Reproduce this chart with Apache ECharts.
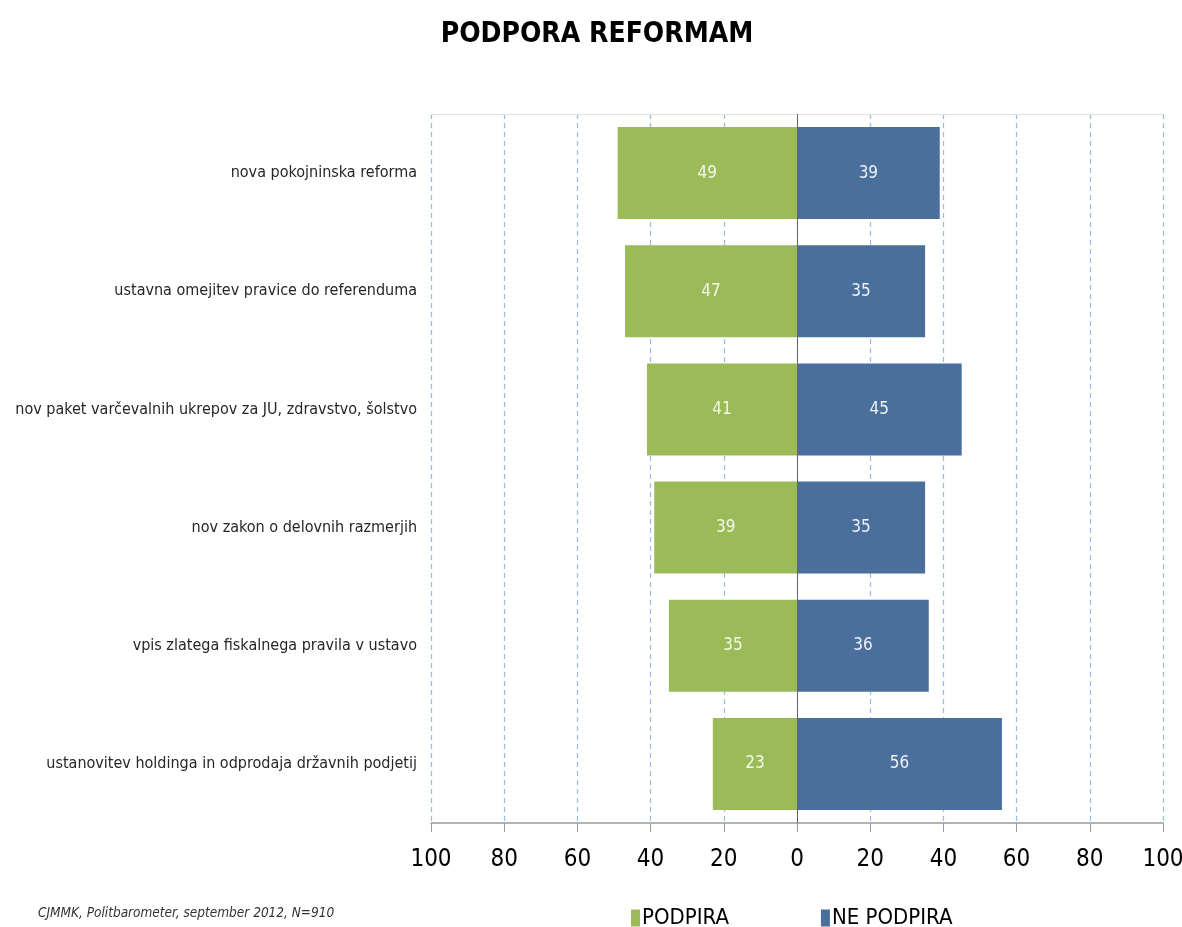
<!DOCTYPE html>
<html><head><meta charset="utf-8">
<script src="https://cdn.jsdelivr.net/npm/echarts@6/dist/echarts.min.js"></script>
<style>html,body{margin:0;padding:0;background:#fff}#c{width:1182px;height:927px}</style>
</head><body><div id="c"></div>
<script>
const categories = [
  'nova pokojninska reforma',
  'ustavna omejitev pravice do referenduma',
  'nov paket varčevalnih ukrepov za JU, zdravstvo, šolstvo',
  'nov zakon o delovnih razmerjih',
  'vpis zlatega fiskalnega pravila v ustavo',
  'ustanovitev holdinga in odprodaja državnih podjetij'
];
const podpira = [49, 47, 41, 39, 35, 23];
const nePodpira = [39, 35, 45, 35, 36, 56];
const seriesNames = ['PODPIRA', 'NE PODPIRA'];
const titleText = 'PODPORA REFORMAM';
const sourceText = 'CJMMK, Politbarometer, september 2012, N=910';

const NARROW = "'Liberation Sans Narrow', 'DejaVu Sans Condensed', 'Liberation Sans', sans-serif";
const chart = echarts.init(document.getElementById('c'));
chart.setOption({
  animation: false,
  title: {
    text: titleText, left: 592, top: 16, textAlign: 'center',
    textStyle: { fontFamily: NARROW, fontWeight: 'bold', fontSize: 28, color: '#000' }
  },
  grid: { left: 431, right: 19, top: 114, bottom: 104, containLabel: false, outerBoundsMode: 'none' },
  legend: {
    data: seriesNames, left: 626, top: 902, itemWidth: 9, itemHeight: 17, itemGap: 92,
    icon: 'rect',
    textStyle: { fontFamily: NARROW, fontSize: 22, color: '#000', padding: [0,0,0,-3] }
  },
  xAxis: [{
    type: 'value', min: -100, max: 100, interval: 20,
    axisLine: { show: true, lineStyle: { color: '#9a9a9a', width: 1.5 } },
    axisTick: { show: true, length: 9, lineStyle: { color: '#9a9a9a' } },
    axisLabel: { formatter: v => Math.abs(v), fontFamily: NARROW, fontSize: 24, color: '#000', margin: 25 },
    splitLine: { show: true, lineStyle: { color: '#9bb9e3', type: [5, 4], width: 1.2 } }
  }, {
    type: 'value', position: 'top', min: -100, max: 100, interval: 20,
    axisLine: { show: true, lineStyle: { color: '#e2e2e2', width: 1 } },
    axisTick: { show: false }, axisLabel: { show: false }, splitLine: { show: false }
  }],
  yAxis: {
    type: 'category', data: categories, inverse: true,
    axisLine: { show: false }, axisTick: { show: false },
    axisLabel: { fontFamily: NARROW, fontSize: 16, color: '#262626', margin: 14 }
  },
  series: [
    {
      name: seriesNames[0], type: 'bar', stack: 's', barWidth: 92,
      data: podpira.map(v => -v),
      itemStyle: { color: '#9bbb59' },
      label: { show: true, position: 'inside', formatter: p => Math.abs(p.value), color: '#f4f8ea', fontFamily: NARROW, fontSize: 17 },
      markLine: {
        silent: true, symbol: 'none', label: { show: false },
        lineStyle: { color: '#666', type: 'solid', width: 1 },
        data: [{ xAxis: 0 }]
      }
    },
    {
      name: seriesNames[1], type: 'bar', stack: 's', barWidth: 92,
      data: nePodpira,
      itemStyle: { color: '#4a6f9c' },
      label: { show: true, position: 'inside', formatter: p => Math.abs(p.value), color: '#eef2f8', fontFamily: NARROW, fontSize: 17 }
    }
  ],
  graphic: [{
    type: 'text', left: 38, top: 906,
    style: { text: sourceText, font: "italic 13.5px " + NARROW, fill: '#333' }
  }]
});
</script></body></html>
